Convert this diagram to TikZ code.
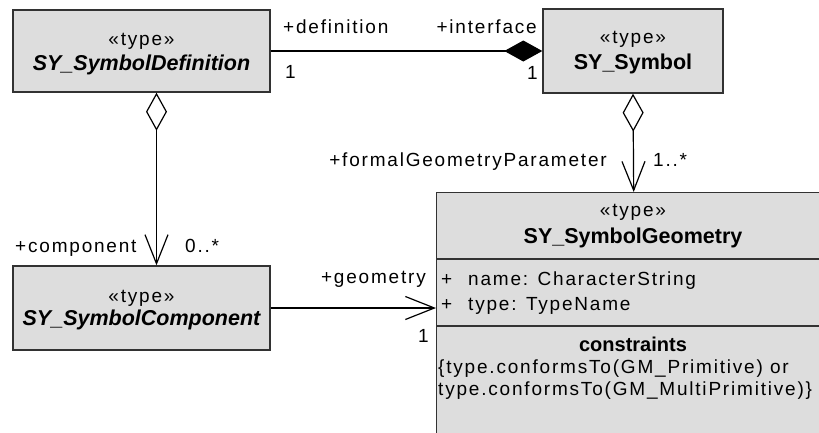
\documentclass[tikz,border=0pt]{standalone}
\usepackage{fontspec}
\setmainfont{Liberation Sans}
\newfontfamily\tracked{Liberation Sans}[LetterSpace=9.5]
\usetikzlibrary{arrows.meta}
\definecolor{boxfill}{RGB}{221,221,221}
\definecolor{boxline}{RGB}{50,50,50}

\tikzset{
  classbox/.style={draw=boxline, fill=boxfill, line width=1.4pt, inner sep=0pt},
  txt/.style={font=\tracked\fontsize{19}{22}\selectfont, inner sep=0pt, text=black},
  cname/.style={font=\bfseries\itshape\fontsize{21.5}{24}\selectfont, inner sep=0pt, anchor=base},
  cnameup/.style={font=\bfseries\fontsize{21.5}{24}\selectfont, inner sep=0pt, anchor=base},
  stereo/.style={txt, anchor=base},
  lbl/.style={txt, anchor=base west},
  lble/.style={txt, anchor=base east},
  assoc/.style={draw=black, line width=1.2pt},
  opendia/.tip={Diamond[length=38pt, width=21pt, fill=white, line join=miter]},
  soliddia/.tip={Diamond[length=38pt, width=21pt, fill=black, line join=miter]},
  navi/.tip={Straight Barb[length=29pt, width=23pt, line join=miter, line cap=butt]},
}

\begin{document}
\begin{tikzpicture}[x=1pt, y=-1pt]
\useasboundingbox (0,0) rectangle (819,432);

% classes
\node[classbox, minimum width=257pt, minimum height=82pt] (def) at (141.5,51) {};
\node[classbox, minimum width=180pt, minimum height=84pt] (sym) at (633,51) {};
\node[classbox, minimum width=257pt, minimum height=84pt] (comp) at (141.5,308) {};
\node[classbox, minimum width=394pt, minimum height=290pt, anchor=north west] (geo) at (436,192) {};

% compartments of SY_SymbolGeometry
\draw[boxline, line width=1.4pt] (geo.west |- 0,259) -- (geo.east |- 0,259);
\draw[boxline, line width=1.4pt] (geo.west |- 0,326) -- (geo.east |- 0,326);

% class texts
\node[stereo] (defst) at (141.5,45) {«type»};
\node[cname] (defnm) at (141.5,70) {SY\_SymbolDefinition};
\node[stereo] (symst) at (633,43) {«type»};
\node[cnameup] (symnm) at (633,69) {SY\_Symbol};
\node[stereo] (compst) at (141.5,302) {«type»};
\node[cname] (compnm) at (141.5,325) {SY\_SymbolComponent};
\node[stereo] (geost) at (633,216) {«type»};
\node[cnameup] (geonm) at (633,243) {SY\_SymbolGeometry};
\node[lbl] (attr1) at (441,285) {\makebox[27pt][l]{+}name: CharacterString};
\node[lbl] (attr2) at (441,310) {\makebox[27pt][l]{+}type: TypeName};
\node[anchor=base, inner sep=0pt, font=\bfseries\fontsize{20}{24}\selectfont] (cons) at (633,351) {constraints};
\node[lbl] (cons1) at (438,373) {\{type.conformsTo(GM\_Primitive) or};
\node[lbl] (cons2) at (438,395) {type.conformsTo(GM\_MultiPrimitive)\}};

% associations
\draw[assoc, -{soliddia}] (def.east) -- (sym.west);
\draw[assoc, {opendia}-{navi}] ([xshift=15pt]def.south) -- ([xshift=15pt]comp.north);
\draw[assoc, {opendia}-{navi}] (sym.south) -- (geo.north);
\draw[assoc, -{navi}] (comp.east) -- (comp.east -| geo.west);

% role names and multiplicities
\node[lbl] (rdef) at (283,33) {+definition};
\node[lbl] (mdef) at (285,78) {1};
\node[lble] (rint) at (537,33) {+interface};
\node[lbl] (mint) at (527,79) {1};
\node[lble] (rfgp) at (607,166) {+formalGeometryParameter};
\node[lbl] (mfgp) at (653,166) {1..*};
\node[lbl] (rcomp) at (15,252) {+component};
\node[lbl] (mcomp) at (185,252) {0..*};
\node[lble] (rgeo) at (426,283) {+geometry};
\node[lbl] (mgeo) at (418,342) {1};
\end{tikzpicture}
\end{document}
